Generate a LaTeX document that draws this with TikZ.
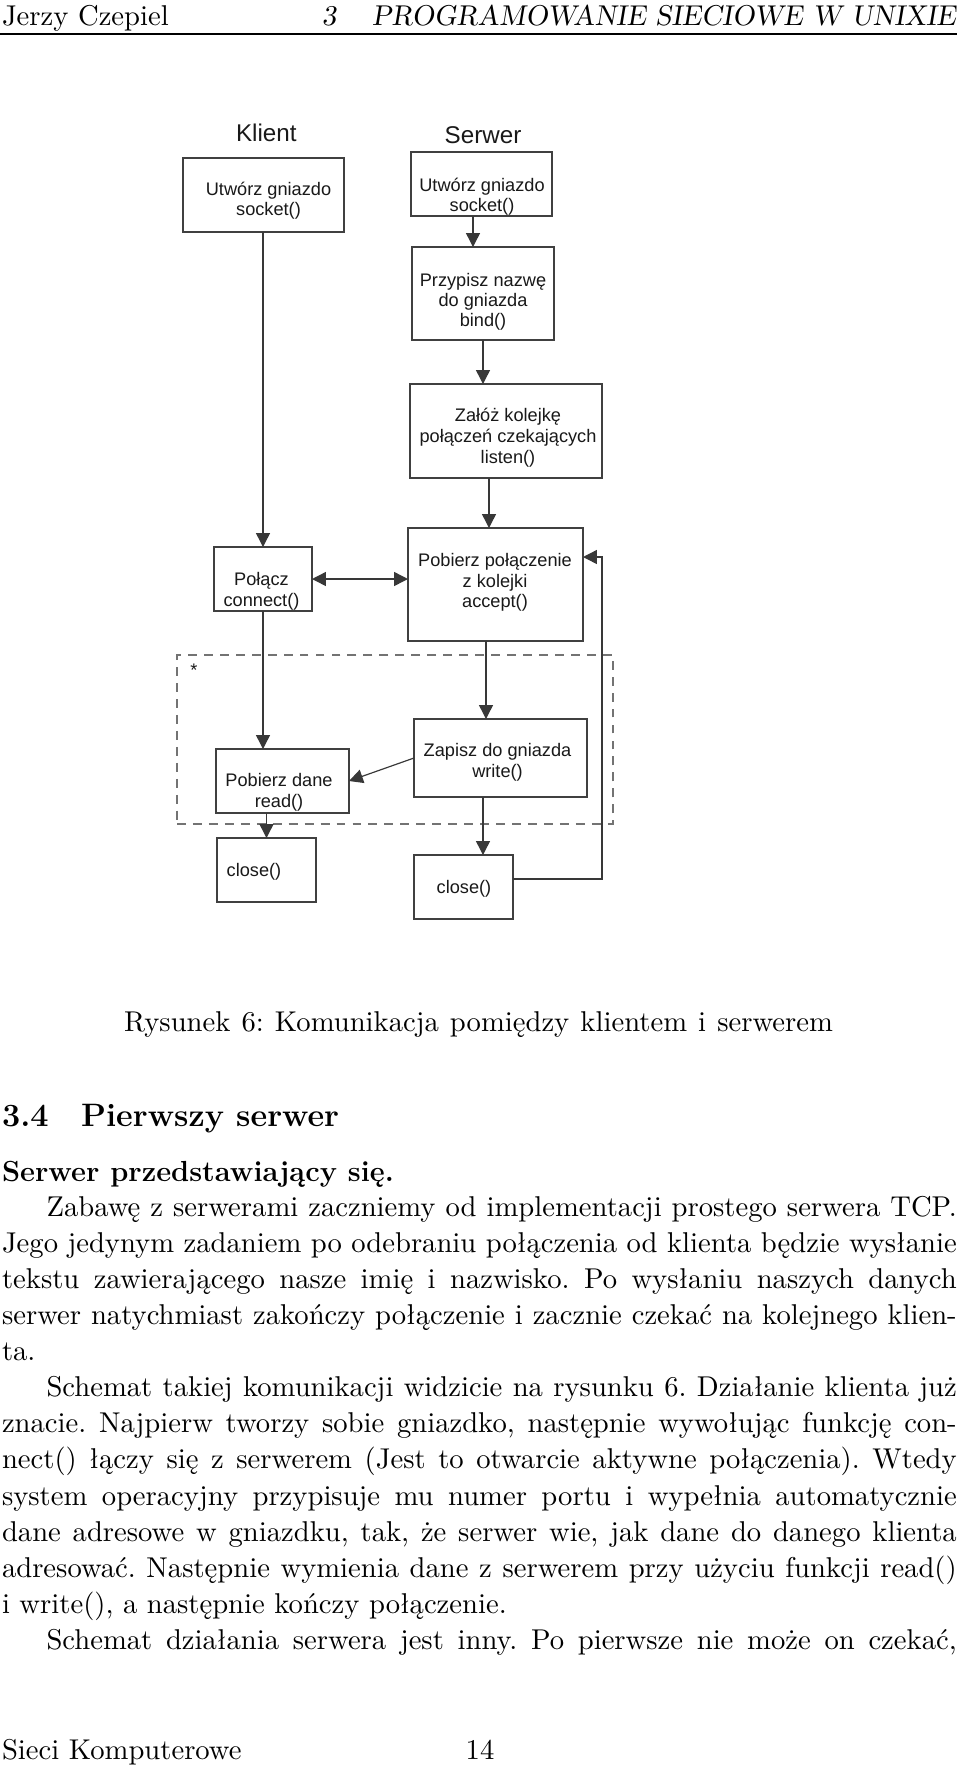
\documentclass[tikz,border=0pt]{standalone}
\usepackage{fontspec}
\newfontfamily\diagsf{Liberation Sans}
\usetikzlibrary{arrows.meta,calc}
\newcommand\pxu{0.3823pt}
\tikzset{
  box/.style={draw=black!75, line width=0.65pt, inner sep=0pt, outer sep=0pt},
  dtxt/.style={anchor=base, inner sep=0pt, text=black!90, font=\diagsf\fontsize{6.95}{7.84}\selectfont},
  htxt/.style={anchor=base, inner sep=0pt, text=black!90, font=\diagsf\fontsize{9.25}{11}\selectfont},
  arr/.style={draw=black!78, line width=0.55pt, -{Triangle[length=5.3pt,width=5.3pt]}},
  dbl/.style={draw=black!78, line width=0.55pt, {Triangle[length=5.3pt,width=5.3pt]}-{Triangle[length=5.3pt,width=5.3pt]}},
  dashbox/.style={draw=black!55, line width=0.6pt, dash pattern=on 3.4pt off 2.7pt, inner sep=0pt},
  body/.style={anchor=base west, inner sep=0pt, font=\fontsize{10.95}{13.6}\selectfont},
}
\begin{document}
\frenchspacing
\begin{tikzpicture}[x=0.3823pt, y=-0.3823pt]
\useasboundingbox (0,0) rectangle (960,1767);
\fill[white] (0,0) rectangle (960,1767);

% ---------- header ----------
\node[body] (hl) at (1.5,25) {Jerzy Czepiel};
\node[body, anchor=base east] (hr) at (956.5,25) {\slshape 3\hspace{1.25em}PROGRAMOWANIE SIECIOWE W UNIXIE};
\draw[line width=0.6pt] (0.5,34) -- (956.5,34);

% ---------- diagram ----------
\node[htxt] (tklient) at (266.3,141.7) {Klient};
\node[htxt] (tserwer) at (483,143) {Serwer};

\node[dashbox, minimum width=436*\pxu, minimum height=169*\pxu] (loopbox) at (395,739.5) {};
\node[dtxt] (star) at (194,676) {*};

\node[box, minimum width=161*\pxu, minimum height=74*\pxu] (cs) at (263.5,195) {};
\node[box, minimum width=141*\pxu, minimum height=64*\pxu] (ss) at (481.5,184) {};
\node[box, minimum width=142*\pxu, minimum height=93*\pxu] (bind) at (483,293.5) {};
\node[box, minimum width=192*\pxu, minimum height=94*\pxu] (listen) at (506,431) {};
\node[box, minimum width=175*\pxu, minimum height=113*\pxu] (accept) at (495.5,584.5) {};
\node[box, minimum width=98*\pxu, minimum height=64*\pxu] (connect) at (263,579) {};
\node[box, minimum width=173*\pxu, minimum height=78*\pxu] (write) at (500.5,758) {};
\node[box, minimum width=133*\pxu, minimum height=64*\pxu] (read) at (282.5,781) {};
\node[box, minimum width=99*\pxu, minimum height=64*\pxu] (cclose) at (266.5,870) {};
\node[box, minimum width=99*\pxu, minimum height=64*\pxu] (sclose) at (463.5,887) {};

\node[dtxt] (cs1) at (268.5,195.5) {Utwórz gniazdo};
\node[dtxt] (cs2) at (268.5,215.5) {socket()};
\node[dtxt] (ss1) at (482,191.7) {Utwórz gniazdo};
\node[dtxt] (ss2) at (482,211.7) {socket()};
\node[dtxt] (b1) at (483,286) {Przypisz nazwę};
\node[dtxt] (b2) at (483,306) {do gniazda};
\node[dtxt] (b3) at (483,326) {bind()};
\node[dtxt] (l1) at (508,421.7) {Załóż kolejkę};
\node[dtxt] (l2) at (508,442.5) {połączeń czekających};
\node[dtxt] (l3) at (508,463.3) {listen()};
\node[dtxt] (a1) at (495,566.3) {Pobierz połączenie};
\node[dtxt] (a2) at (495,587) {z kolejki};
\node[dtxt] (a3) at (495,607.5) {accept()};
\node[dtxt] (c1) at (261.5,585.3) {Połącz};
\node[dtxt] (c2) at (261.5,606.5) {connect()};
\node[dtxt] (w1) at (497.5,756.7) {Zapisz do gniazda};
\node[dtxt] (w2) at (497.5,777.3) {write()};
\node[dtxt] (r1) at (279,786.7) {Pobierz dane};
\node[dtxt] (r2) at (279,807.3) {read()};
\node[dtxt] (cc1) at (254,876) {close()};
\node[dtxt] (sc1) at (464,893.3) {close()};

% connector helper points
\coordinate (xbind) at ($(bind.north)+(-10,0)$);
\coordinate (xacc) at ($(accept.north)+(-6.5,0)$);
\coordinate (xaccs) at ($(accept.south)+(-9.5,0)$);
\coordinate (xwr) at ($(write.south)+(-17.5,0)$);
\coordinate (lpS) at ($(sclose.east)+(0,-8)$);
\coordinate (lpE) at ($(accept.east)+(0,-27.5)$);
\coordinate (lpC) at ($(lpE)+(19,0)$);

% connectors
\draw[arr] (connect.north |- cs.south) -- (connect.north);
\draw[arr] (xbind |- ss.south) -- (xbind);
\draw[arr] (bind.south) -- (bind.south |- listen.north);
\draw[arr] (xacc |- listen.south) -- (xacc);
\draw[dbl] (connect.east) -- (connect.east -| accept.west);
\draw[arr] (connect.south) -- (connect.south |- read.north);
\draw[arr] (xaccs) -- (xaccs |- write.north);
\draw[arr, line width=0.45pt] (write.west) -- (read.east);
\draw[arr] (cclose.north |- read.south) -- (cclose.north);
\draw[arr] (xwr) -- (xwr |- sclose.north);
\draw[arr] (lpS) -| (lpC) -- (lpE);

% ---------- caption and text ----------
\node[body, anchor=base] (cap) at (478.5,1031) {\makebox[271pt][s]{Rysunek 6: Komunikacja pomiędzy klientem i serwerem}};
\node[body, font=\fontsize{12.4}{14.5}\selectfont\bfseries] (sec) at (1.5,1126.7) {3.4\quad Pierwszy serwer};
\node[body, font=\fontsize{11.1}{13.6}\selectfont\bfseries] (parh) at (1.5,1181.5) {Serwer przedstawiający się.};

\node[body] (p1) at (46,1216.5) {\makebox[348pt][s]{Zabawę z serwerami zaczniemy od implementacji prostego serwera TCP.}};
\node[body] (p2) at (1.5,1252.6) {\makebox[365pt][s]{Jego jedynym zadaniem po odebraniu połączenia od klienta będzie wysłanie}};
\node[body] (p3) at (1.5,1288.6) {\makebox[365pt][s]{tekstu zawierającego nasze imię i nazwisko. Po wysłaniu naszych danych}};
\node[body] (p4) at (1.5,1324.7) {\makebox[365pt][s]{serwer natychmiast zakończy połączenie i zacznie czekać na kolejnego klien-}};
\node[body] (p5) at (1.5,1360.7) {ta.};
\node[body] (p6) at (46,1396.8) {\makebox[348pt][s]{Schemat takiej komunikacji widzicie na rysunku 6. Działanie klienta już}};
\node[body] (p7) at (1.5,1432.9) {\makebox[365pt][s]{znacie. Najpierw tworzy sobie gniazdko, następnie wywołując funkcję con-}};
\node[body] (p8) at (1.5,1468.9) {\makebox[365pt][s]{nect() łączy się z serwerem (Jest to otwarcie aktywne połączenia). Wtedy}};
\node[body] (p9) at (1.5,1505) {\makebox[365pt][s]{system operacyjny przypisuje mu numer portu i wypełnia automatycznie}};
\node[body] (p10) at (1.5,1541) {\makebox[365pt][s]{dane adresowe w gniazdku, tak, że serwer wie, jak dane do danego klienta}};
\node[body] (p11) at (1.5,1577.1) {\makebox[365pt][s]{adresować. Następnie wymienia dane z serwerem przy użyciu funkcji read()}};
\node[body] (p12) at (1.5,1613.2) {i write(), a następnie kończy połączenie.};
\node[body] (p13) at (46,1649.2) {\makebox[348pt][s]{Schemat działania serwera jest inny. Po pierwsze nie może on czekać,}};

% ---------- footer ----------
\node[body] (fl) at (1.5,1759) {Sieci Komputerowe};
\node[body, anchor=base] (fn) at (480,1759) {14};
\end{tikzpicture}
\end{document}
